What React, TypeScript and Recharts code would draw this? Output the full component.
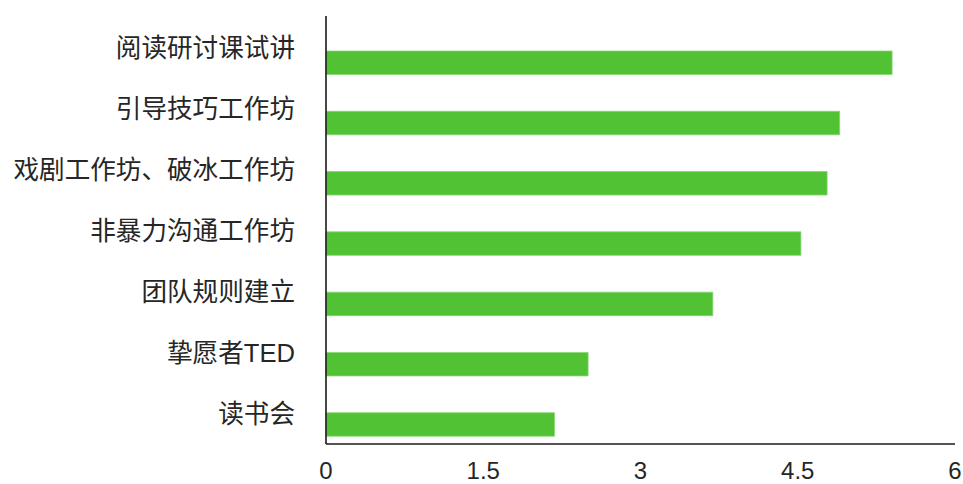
import { Bar, BarChart, XAxis, YAxis } from "recharts"

const categories = [
  "阅读研讨课试讲",
  "引导技巧工作坊",
  "戏剧工作坊、破冰工作坊",
  "非暴力沟通工作坊",
  "团队规则建立",
  "挚愿者TED",
  "读书会",
]
const scores = [5.4, 4.9, 4.78, 4.53, 3.69, 2.5, 2.18]
const xTicks = [0, 1.5, 3, 4.5, 6]

const data = categories.map((name, i) => ({ name, score: scores[i] }))

const FONT = "'Liberation Sans', 'Noto Sans CJK SC', sans-serif"

function CategoryTick(props: any) {
  const { x, y, payload } = props
  return (
    <text x={x} y={y + 1} textAnchor="end" dominantBaseline="central" fontSize={25.6} fill="#262626" fontFamily={FONT}>
      {payload.value}
    </text>
  )
}

export default function App() {
  return (
    <div style={{ position: "absolute", left: 0, top: 0, background: "#fff" }}>
      <BarChart
        width={963}
        height={484}
        data={data}
        layout="vertical"
        margin={{ top: 16, right: 8, left: 0, bottom: 0 }}
      >
        <XAxis
          type="number"
          domain={[0, 6]}
          ticks={xTicks}
          height={40}
          tickLine={false}
          tickMargin={12}
          axisLine={{ stroke: "#1a1a1a", strokeWidth: 1.6 }}
          tick={{ fill: "#262626", fontSize: 24, fontFamily: FONT }}
        />
        <YAxis
          type="category"
          dataKey="name"
          width={326}
          tickLine={false}
          tickSize={0}
          tickMargin={31}
          axisLine={{ stroke: "#1a1a1a", strokeWidth: 1.6 }}
          tick={<CategoryTick />}
          interval={0}
        />
        <YAxis yAxisId="bars" type="category" dataKey="name" hide padding={{ top: 17, bottom: -11 }} />
        <Bar
          dataKey="score"
          yAxisId="bars"
          fill="#50c233"
          stroke="#86d672"
          strokeWidth={0.8}
          barSize={23.5}
          isAnimationActive={false}
        />
      </BarChart>
    </div>
  )
}
